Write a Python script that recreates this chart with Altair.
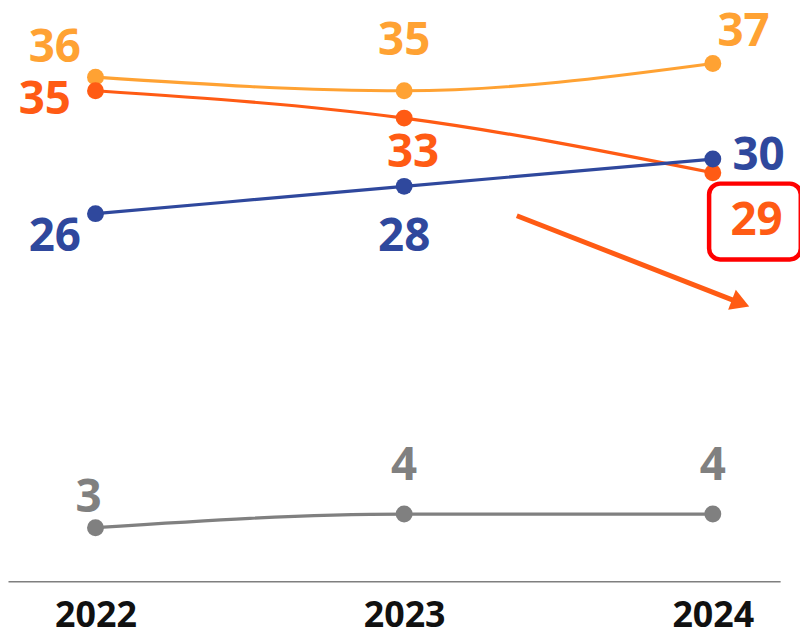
import altair as alt
import pandas as pd

# ---- data ----
years = [2022, 2023, 2024]
series_names = ["Série 1", "Série 2", "Série 3", "Série 4"]
values_s1 = [36, 35, 37]   # light orange
values_s2 = [35, 33, 29]   # orange
values_s3 = [26, 28, 30]   # blue
values_s4 = [3, 4, 4]      # grey
colors = ["#FFA233", "#FF5B14", "#2F489D", "#808080"]

# annotation (in data units): highlight box around the 2024 orange label, and a down arrow
box_x = [2023.988, 2024.285]
box_y = [22.65, 28.2]
arrow_x = [2023.365, 2024.090]
arrow_y = [25.85, 19.45]

# ---- styling ----
label_offsets = {
    "Série 1": [(-41, -29), (0, -50), (31, -32)],
    "Série 2": [(-51, 9), (9, 35), (44, 49)],
    "Série 3": [(-41, 24), (0, 51), (46, -3)],
    "Série 4": [(-7, -30), (0, -48), (0, -48)],
}
FONT = "Open Sans"
X_DOMAIN = [2021.7165, 2024.2181]
Y_DOMAIN = [-0.93, 40.92]

all_values = [values_s1, values_s2, values_s3, values_s4]
rows = []
for name, vals in zip(series_names, all_values):
    for yr, v in zip(years, vals):
        rows.append({"series": name, "year": yr, "value": v})
df = pd.DataFrame(rows)

x_axis = alt.Axis(values=years, format="d", title=None, grid=False, ticks=False,
                  labelFont=FONT, labelFontSize=36, labelFontWeight="bold",
                  labelColor="#111111", labelPadding=17,
                  domainColor="#7f7f7f", domainWidth=1.5)


def xs(field):
    return alt.X(field, scale=alt.Scale(domain=X_DOMAIN, nice=False, zero=False), axis=x_axis)


def ys(field):
    return alt.Y(field, scale=alt.Scale(domain=Y_DOMAIN, nice=False, zero=False), axis=None)


layers = []
for name, col in zip(series_names, colors):
    sub = df[df.series == name]
    base = alt.Chart(sub)
    layers.append(base.mark_line(interpolate="monotone", strokeWidth=3.2, color=col)
                  .encode(x=xs("year:Q"), y=ys("value:Q")))
    layers.append(base.mark_circle(size=290, opacity=1, color=col)
                  .encode(x=xs("year:Q"), y=ys("value:Q")))

for name, col in zip(series_names, colors):
    sub = df[df.series == name].reset_index(drop=True)
    for i in range(len(sub)):
        dx, dy = label_offsets[name][i]
        one = sub.iloc[[i]]
        layers.append(
            alt.Chart(one).mark_text(font=FONT, fontSize=46, fontWeight="bold", color=col,
                                     align="center", baseline="middle", dx=dx, dy=dy)
            .encode(x=xs("year:Q"), y=ys("value:Q"), text=alt.Text("value:Q", format="d"))
        )

box_df = pd.DataFrame({"x1": [box_x[0]], "x2": [box_x[1]], "y1": [box_y[0]], "y2": [box_y[1]]})
layers.append(
    alt.Chart(box_df).mark_rect(fill="transparent", stroke="#FF0000", strokeWidth=4.5, cornerRadius=11)
    .encode(x=xs("x1:Q"), x2="x2:Q", y=ys("y1:Q"), y2="y2:Q")
)

arrow_df = pd.DataFrame({"x1": [arrow_x[0]], "x2": [arrow_x[1]], "y1": [arrow_y[0]], "y2": [arrow_y[1]]})
layers.append(
    alt.Chart(arrow_df).mark_rule(color="#FF5B14", strokeWidth=5)
    .encode(x=xs("x1:Q"), x2="x2:Q", y=ys("y1:Q"), y2="y2:Q")
)
head_df = pd.DataFrame({"x": [arrow_x[1]], "y": [arrow_y[1]]})
layers.append(
    alt.Chart(head_df).mark_point(shape="triangle-right", filled=True, color="#FF5B14",
                                  size=460, angle=21, opacity=1)
    .encode(x=xs("x:Q"), y=ys("y:Q"))
)

chart = alt.layer(*layers).properties(
    width=777, height=575,
    background="white",
    autosize=alt.AutoSizeParams(type="none"),
    padding={"left": 0, "top": 0, "right": 20, "bottom": 48},
).configure_view(stroke=None)

chart.save("out.html", embed_options={"renderer": "svg", "actions": False})
